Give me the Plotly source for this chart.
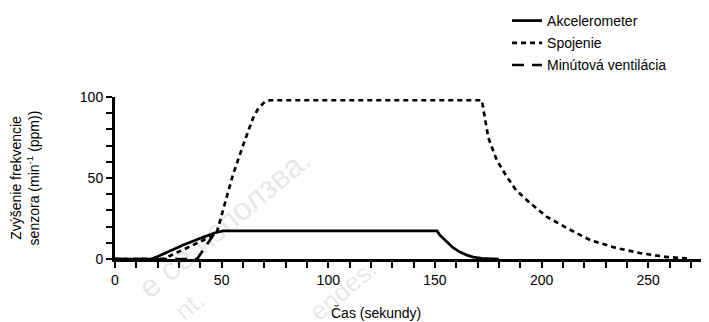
import plotly.graph_objects as go

# Sensor rate response
time_accel = [0, 17, 20, 25, 32, 40, 47, 50.6, 151, 152.3, 154, 155.6, 158.5, 161.7, 165, 168, 172, 180]
accel = [0, 0, 1.5, 4.5, 8.6, 12.8, 16.2, 17.3, 17.3, 14.8, 12.5, 10.5, 7.0, 4.3, 2.4, 1.2, 0.4, 0]

time_blend = [0, 22.5, 25, 30, 35, 40, 45, 47.8, 50.6, 55.3, 60, 64.7, 67, 69.4, 71, 72.7, 172, 173.2, 175,
              179, 183.6, 188, 194.6, 202.5, 212, 222.7, 235, 246, 258.8, 268.6]
blend = [0, 0, 1.5, 4.8, 7.6, 10.8, 13.8, 16.7, 30, 52, 70, 87, 92.5, 96, 97.5, 98, 98, 88, 75,
         61, 51, 42.6, 34.6, 26, 19, 11.7, 6.8, 3.7, 1.2, 0.4]

time_mv = [0, 38.5, 47]
mv = [0, 0, 16.5]

x_ticks = [0, 50, 100, 150, 200, 250]
y_ticks = [0, 50, 100]

FONT = "Arial, Liberation Sans, sans-serif"

fig = go.Figure()

fig.add_trace(go.Scatter(
    x=time_accel, y=accel, mode='lines', name='Akcelerometer',
    legendgroup='a', line=dict(color='black', width=2.7)
))
fig.add_trace(go.Scatter(
    x=time_blend, y=blend, mode='lines', name='Spojenie',
    legendgroup='b', line=dict(color='black', width=2.7, dash='5px,4px')
))
fig.add_trace(go.Scatter(
    x=time_mv, y=mv, mode='lines', name='Minútová ventilácia',
    legendgroup='c', line=dict(color='black', width=2.7, dash='12px,8px')
))

axis_style = dict(
    showline=True, linecolor='black', linewidth=3,
    ticks='outside', tickcolor='black', tickwidth=2, ticklen=6,
    showgrid=False, zeroline=False,
    tickfont=dict(family=FONT, size=14, color='black'),
)

fig.update_xaxes(
    range=[0, 278.5], tickvals=x_ticks,
    minor=dict(dtick=10, ticks='outside', ticklen=6, tickwidth=2, tickcolor='black'),
    **axis_style
)
fig.update_yaxes(
    range=[0, 100], tickvals=y_ticks,
    minor=dict(dtick=10, ticks='outside', ticklen=6, tickwidth=2, tickcolor='black'),
    title=dict(text='Zvýšenie frekvencie<br>senzora (min<sup>-1</sup> (ppm))',
               font=dict(family=FONT, size=14, color='black'), standoff=39),
    **axis_style
)

fig.add_annotation(
    text='Čas (sekundy)', xref='paper', yref='paper', x=0.439, y=-0.333,
    xanchor='center', yanchor='middle', showarrow=False,
    font=dict(family=FONT, size=14, color='black')
)

# faint watermark fragments
wm = [('е се използва.', 0.185, 0.22, 32), ('nt.', 0.126, -0.284, 26), ('endes.', 0.384, -0.19, 26)]
for txt, x, y, size in wm:
    fig.add_annotation(
        text=txt, xref='paper', yref='paper', x=x, y=y, textangle=-40,
        xanchor='center', yanchor='middle',
        showarrow=False, font=dict(family=FONT, size=size, color='rgba(0,0,0,0.11)')
    )

# the page body adds an 8px offset, so the figure is 8px smaller than the window
fig.update_layout(
    width=701, height=314,
    margin=dict(l=107, r=0, t=89, b=63, autoexpand=False),
    paper_bgcolor='white', plot_bgcolor='white',
    font=dict(family=FONT, size=14, color='black'),
    legend=dict(x=0.66, y=1.568, xanchor='left', yanchor='top',
                bgcolor='rgba(0,0,0,0)', tracegroupgap=1,
                font=dict(family=FONT, size=14, color='black')),
)

fig.write_html("out.html")
